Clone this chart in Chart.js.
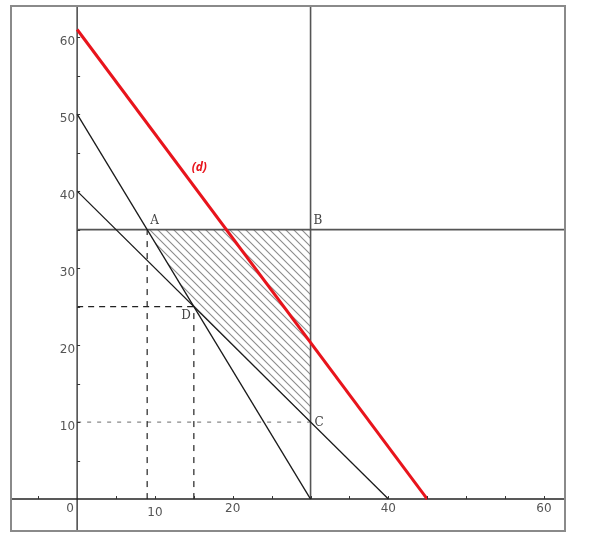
<!DOCTYPE html>
<html>
<head>
<meta charset="utf-8">
<script src="https://cdn.jsdelivr.net/npm/chart.js@4"></script>
<style>
    html, body { margin: 0; padding: 0; background: #fff; }
    #wrap { width: 611px; height: 539px; }
</style>
</head>
<body>
<div id="wrap"><canvas id="lpChart" width="611" height="539"></canvas></div>
<script>
// Linear programming figure - feasible region ABCD and objective line (d)

// Axis ranges
const xRange = [-8.5, 62.7];
const yRange = [-4.15, 64.05];

// Tick marks and labels
const xTickMarks = [-5, 5, 10, 15, 20, 25, 30, 35, 40, 45, 50, 55, 60];
const xTickLabels = [0, 10, 20, 40, 60];
const yTickMarks = [5, 10, 15, 20, 25, 30, 35, 40, 45, 50, 55, 60];
const yTickLabels = [10, 20, 30, 40, 50, 60];

// Constraint and objective lines (end points)
const lineD = [{ x: 0, y: 61 }, { x: 45, y: 0 }];
const line1 = [{ x: 0, y: 50 }, { x: 30, y: 0 }];
const line2 = [{ x: 0, y: 40 }, { x: 40, y: 0 }];
const lineY35 = [{ x: 0, y: 35 }, { x: 70, y: 35 }];
const lineX30 = [{ x: 30, y: 0 }, { x: 30, y: 70 }];
const axisX = [{ x: -10, y: 0 }, { x: 70, y: 0 }];
const axisY = [{ x: 0, y: -10 }, { x: 0, y: 70 }];

// Dashed guide lines
const guideA = [{ x: 9, y: 0 }, { x: 9, y: 35 }];
const guideDy = [{ x: 0, y: 25 }, { x: 15, y: 25 }];
const guideDx = [{ x: 15, y: 0 }, { x: 15, y: 25 }];
const guideC = [{ x: 0, y: 10 }, { x: 30, y: 10 }];

// Feasible region corners
const regionNames = ['A', 'B', 'C', 'D'];
const regionPts = [{ x: 9, y: 35 }, { x: 30, y: 35 }, { x: 30, y: 10 }, { x: 15, y: 25 }];

// Hatch pattern for the region
function makeHatch(size, color) {
    const c = document.createElement('canvas');
    c.width = size;
    c.height = size;
    const g = c.getContext('2d');
    g.strokeStyle = color;
    g.lineWidth = 1.1;
    g.beginPath();
    g.moveTo(0, 0); g.lineTo(size, size);
    g.moveTo(-2, size - 2); g.lineTo(2, size + 2);
    g.moveTo(size - 2, -2); g.lineTo(size + 2, 2);
    g.stroke();
    return g.createPattern(c, 'repeat');
}

function seg(data, color, width, dash) {
    return {
        data: data,
        showLine: true,
        borderColor: color,
        borderWidth: width,
        borderDash: dash || [],
        pointRadius: 0,
        fill: false
    };
}

// Frame, ticks and labels drawn on top of the scales
const decorPlugin = {
    id: 'decor',
    afterDatasetsDraw(chart) {
        const ctx = chart.ctx;
        const xs = chart.scales.x;
        const ys = chart.scales.y;
        const area = chart.chartArea;
        const x0 = xs.getPixelForValue(0);
        const y0 = ys.getPixelForValue(0);

        ctx.save();
        // frame
        ctx.strokeStyle = '#8a8a8a';
        ctx.lineWidth = 2;
        ctx.strokeRect(area.left, area.top, area.right - area.left, area.bottom - area.top);

        // tick marks
        ctx.strokeStyle = '#333';
        ctx.lineWidth = 1;
        ctx.beginPath();
        xTickMarks.forEach(v => {
            const px = Math.round(xs.getPixelForValue(v)) + 0.5;
            ctx.moveTo(px, y0);
            ctx.lineTo(px, y0 - 3);
        });
        yTickMarks.forEach(v => {
            const py = Math.round(ys.getPixelForValue(v)) + 0.5;
            ctx.moveTo(x0, py);
            ctx.lineTo(x0 + 3, py);
        });
        ctx.stroke();

        // tick labels
        ctx.fillStyle = '#555';
        ctx.font = '12px "DejaVu Sans"';
        ctx.textBaseline = 'middle';
        ctx.textAlign = 'center';
        xTickLabels.forEach(v => {
            const px = v === 0 ? x0 - 7 : xs.getPixelForValue(v);
            const dy = v === 10 ? 14 : 10;
            ctx.fillText(String(v), px, y0 + dy);
        });
        ctx.textAlign = 'right';
        yTickLabels.forEach(v => {
            ctx.fillText(String(v), x0 - 2, ys.getPixelForValue(v) + 5);
        });

        // corner labels
        ctx.fillStyle = '#444';
        ctx.font = '12px "DejaVu Serif"';
        const offsets = [[3, -9, 'left'], [3, -9, 'left'], [4, 1, 'left'], [-3, 9, 'right']];
        regionPts.forEach((p, i) => {
            const o = offsets[i];
            ctx.textAlign = o[2];
            ctx.fillText(regionNames[i], xs.getPixelForValue(p.x) + o[0], ys.getPixelForValue(p.y) + o[1]);
        });

        // objective line label
        ctx.fillStyle = '#e8141c';
        ctx.font = 'italic bold 12px "Noto Sans"';
        ctx.textAlign = 'center';
        ctx.fillText('(d)', xs.getPixelForValue(15.7), ys.getPixelForValue(43.1));
        ctx.restore();
    }
};

function createChart() {
    const ctx = document.getElementById('lpChart');
    const hatch = makeHatch(8, '#8c8c8c');

    new Chart(ctx, {
        type: 'scatter',
        data: {
            datasets: [
                seg(lineD, '#e8141c', 3),
                seg(line1, '#1a1a1a', 1.3),
                seg(line2, '#1a1a1a', 1.3),
                seg(lineY35, '#555', 1.6),
                seg(lineX30, '#555', 1.6),
                seg(axisX, '#222', 1.5),
                seg(axisY, '#444', 1.5),
                seg(guideA, '#222', 1.2, [6, 6]),
                seg(guideDy, '#222', 1.2, [6, 5]),
                seg(guideDx, '#222', 1.2, [6, 6]),
                seg(guideC, '#888', 1.2, [4, 6]),
                {
                    data: regionPts.concat([regionPts[0]]),
                    showLine: true,
                    borderWidth: 0,
                    borderColor: 'rgba(0,0,0,0)',
                    backgroundColor: hatch,
                    pointRadius: 0,
                    fill: 'shape'
                }
            ]
        },
        options: {
            responsive: false,
            animation: false,
            layout: { padding: { left: 11, top: 6, right: 46, bottom: 8 } },
            plugins: {
                legend: { display: false },
                tooltip: { enabled: false }
            },
            scales: {
                x: { type: 'linear', min: xRange[0], max: xRange[1], display: false },
                y: { type: 'linear', min: yRange[0], max: yRange[1], display: false }
            }
        },
        plugins: [decorPlugin]
    });
}

document.addEventListener('DOMContentLoaded', createChart);
</script>
</body>
</html>
